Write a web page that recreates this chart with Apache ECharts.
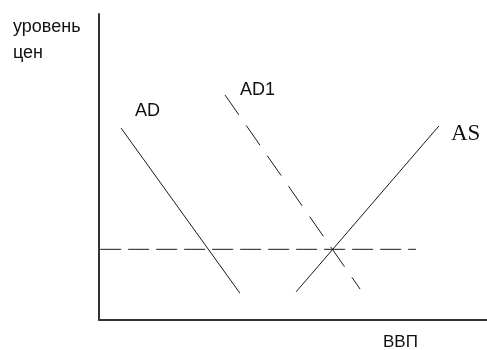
<!DOCTYPE html>
<html>
<head>
<meta charset="utf-8">
<script src="https://cdn.jsdelivr.net/npm/echarts@6/dist/echarts.min.js"></script>
<style>
  html, body { margin: 0; padding: 0; background: #fff; }
  #chart { width: 487px; height: 350px; }
</style>
</head>
<body>
<div id="chart"></div>
<script>
// curve end points, in axis units (0..100 on both axes)
const adLine = [[5.7, 62.7], [36.3, 8.8]];
const ad1Line = [[32.5, 73.5], [67.3, 10.1]];
const asLine = [[50.8, 9.2], [87.6, 63.4]];
const priceLine = [[0.3, 23.1], [81.7, 23.1]];

const yAxisName = 'уровень\nцен';
const xAxisName = 'ВВП';

const chart = echarts.init(document.getElementById('chart'));

const lineColor = '#1a1a1a';
const axisColor = '#333';

function seg(data, dash) {
  return {
    type: 'line',
    data: data,
    symbol: 'none',
    silent: true,
    animation: false,
    lineStyle: { color: lineColor, width: 1, type: dash || 'solid' },
  };
}

const opts = {
  backgroundColor: '#fff',
  animation: false,
  grid: { left: 99, right: 0, top: 14, bottom: 30 },
  xAxis: {
    type: 'value',
    min: 0,
    max: 100,
    axisLine: { show: true, onZero: false, lineStyle: { color: axisColor, width: 2 } },
    axisTick: { show: false },
    axisLabel: { show: false },
    splitLine: { show: false },
  },
  yAxis: {
    type: 'value',
    min: 0,
    max: 100,
    axisLine: { show: true, onZero: false, lineStyle: { color: axisColor, width: 2 } },
    axisTick: { show: false },
    axisLabel: { show: false },
    splitLine: { show: false },
  },
  series: [
    seg(adLine),
    seg(ad1Line, [24, 13]),
    seg(asLine),
    seg(priceLine, [21, 7]),
  ],
  graphic: [
    {
      type: 'text', left: 13, top: 14,
      style: { text: yAxisName, font: '18px "Liberation Sans", Arial, sans-serif', fill: '#111', lineHeight: 26 },
    },
    {
      type: 'text', left: 135, top: 102,
      style: { text: 'AD', font: '18px "Liberation Sans", Arial, sans-serif', fill: '#111' },
    },
    {
      type: 'text', left: 240, top: 81,
      style: { text: 'AD1', font: '18px "Liberation Sans", Arial, sans-serif', fill: '#111' },
    },
    {
      type: 'text', left: 451, top: 122,
      style: { text: 'AS', font: '23px "Liberation Serif", "Times New Roman", serif', fill: '#111' },
    },
    {
      type: 'text', left: 383, top: 334,
      style: { text: xAxisName, font: '17px "Liberation Sans", Arial, sans-serif', fill: '#111' },
    },
  ],
};

chart.setOption(opts);
</script>
</body>
</html>
